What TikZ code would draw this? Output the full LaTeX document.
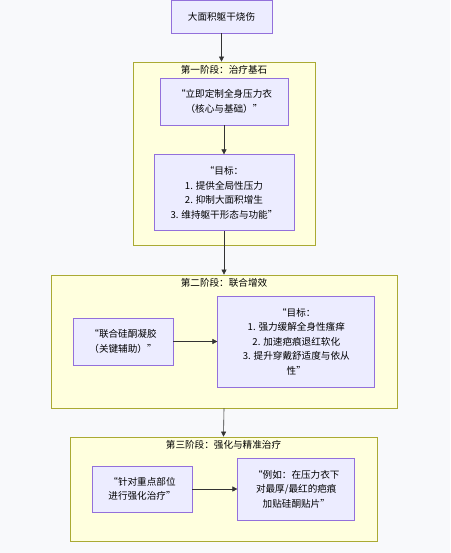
\documentclass[tikz,border=0pt]{standalone}
\usepackage{fontspec}
\setmainfont{Noto Sans CJK SC}
\usetikzlibrary{arrows.meta,positioning,calc}
\definecolor{PageBg}{HTML}{F8F9FB}
\definecolor{StageFill}{HTML}{FFFFDE}
\definecolor{StageLine}{HTML}{AAAA33}
\definecolor{StepFill}{HTML}{ECECFF}
\definecolor{StepLine}{HTML}{9370DB}
\definecolor{FlowLine}{HTML}{333333}
\tikzset{
    % Phase containers
    stage box/.style={
        rectangle,
        draw=StageLine,
        fill=StageFill,
        line width=0.8pt,
        inner sep=0pt
    },
    stage title/.style={
        draw=none,
        text=black,
        font=\fontsize{9.6}{11}\selectfont,
        inner sep=0pt
    },
    % Treatment steps
    stepbox/.style={
        rectangle,
        draw=StepLine,
        fill=StepFill,
        line width=0.8pt,
        text=black,
        align=center,
        inner sep=0pt,
        font=\fontsize{9.6}{14.5}\selectfont
    },
    arrow/.style={
        -{Triangle[length=5pt,width=5pt]},
        line width=0.6pt,
        color=FlowLine
    }
}

\begin{document}
\begin{tikzpicture}[x=1pt,y=-1pt]
        \fill[PageBg] (0,0) rectangle (450,553);
        \useasboundingbox (0,0) rectangle (450,553);

        % Start
        \node[stepbox, minimum width=101pt, minimum height=33pt] (burn) at (221.5,16.5) {大面积躯干烧伤};

        % Phase one
        \node[stage box, minimum width=182pt, minimum height=183pt] (stage1) at (224,153.5) {};
        \node[stage title] (title1) at (224,70) {第一阶段：治疗基石};
        \node[stepbox, minimum width=128pt, minimum height=47pt] (garment) at (224,101.5)
              {“立即定制全身压力衣\\（核心与基础）”};
        \node[stepbox, minimum width=140pt, minimum height=76pt, below=29pt of garment] (goal1)
              {“目标：\\1. 提供全局性压力\\2. 抑制大面积增生\\3. 维持躯干形态与功能”};

        % Phase two
        \node[stage box, minimum width=346pt, minimum height=133pt] (stage2) at (224,341.5) {};
        \node[stage title] (title2) at (224,283) {第二阶段：联合增效};
        \node[stepbox, minimum width=100pt, minimum height=47pt] (gel) at (123,341.5)
              {“联合硅酮凝胶\\（关键辅助）”};
        \node[stepbox, minimum width=157pt, minimum height=91pt, right=44pt of gel] (goal2)
              {“目标：\\1. 强力缓解全身性瘙痒\\2. 加速疤痕退红软化\\3. 提升穿戴舒适度与依从\\性”};

        % Phase three
        \node[stage box, minimum width=307pt, minimum height=104pt] (stage3) at (223.5,489) {};
        \node[stage title] (title3) at (223.5,445) {第三阶段：强化与精准治疗};
        \node[stepbox, minimum width=100pt, minimum height=46pt] (focus) at (142,489)
              {“针对重点部位\\进行强化治疗”};
        \node[stepbox, minimum width=117pt, minimum height=62pt, right=45pt of focus] (patch)
              {“例如：在压力衣下\\对最厚/最红的疤痕\\加贴硅酮贴片”};

        % Arrows
        \draw[arrow] (burn.south) -- (burn.south |- stage1.north);
        \draw[arrow] (garment) -- (goal1);
        \draw[arrow] (goal1.south) -- (goal1.south |- stage2.north);
        \draw[arrow] (gel) -- (goal2);
        \draw[arrow] (stage2.south) -- (stage3.north);
        \draw[arrow] (focus) -- (patch);
    \end{tikzpicture}
\end{document}
